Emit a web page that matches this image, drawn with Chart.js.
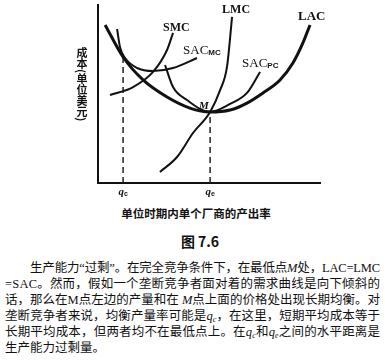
<!DOCTYPE html>
<html>
<head>
<meta charset="utf-8">
<script src="https://cdn.jsdelivr.net/npm/chart.js@4/dist/chart.umd.min.js"></script>
<style>
  html, body { margin: 0; padding: 0; background: #fff; }
  body { width: 385px; height: 364px; position: relative; overflow: hidden; color: #111; }
  #chart { position: absolute; left: 0; top: 0; }
  .ytitle { position: absolute; left: 75px; top: 47px; writing-mode: vertical-rl; font: bold 11px "Noto Sans CJK SC"; line-height: 14px; }
  .xtitle { position: absolute; left: 0; width: 392px; top: 205px; text-align: center; font: bold 11.5px "Noto Sans CJK SC"; }
  .fig { position: absolute; left: 0; width: 400px; top: 231px; text-align: center; font: bold 14px "Noto Sans CJK SC"; }
  .para { position: absolute; left: 5px; top: 260px; width: 375px; font-size: 12.5px; font-family: "Liberation Serif", "Noto Sans CJK SC", serif; line-height: 16.1px; }
  .para div { white-space: nowrap; }
  .q { font-style: italic; }
  sub { font-size: 8px; vertical-align: -2px; line-height: 0; }
</style>
</head>
<body>
<canvas id="chart" width="385" height="200"></canvas>
<div class="ytitle">成本(单位美元)</div>
<div class="xtitle">单位时期内单个厂商的产出率</div>
<div class="fig">图 7.6</div>
<div class="para">
  <div class="fit" style="padding-left:25px">生产能力“过剩”。在完全竞争条件下，在最低点<i>M</i>处，LAC=LMC</div>
  <div class="fit">=SAC。然而，假如一个垄断竞争者面对着的需求曲线是向下倾斜的</div>
  <div class="fit">话，那么在M点左边的产量和在 <i>M</i>点上面的价格处出现长期均衡。对</div>
  <div class="fit">垄断竞争者来说，均衡产量率可能是<span class="q">q<sub>c</sub></span>，在这里，短期平均成本等于</div>
  <div class="fit">长期平均成本，但两者均不在最低点上。在<span class="q">q<sub>c</sub></span>和<span class="q">q<sub>e</sub></span>之间的水平距离是</div>
  <div>生产能力过剩量。</div>
</div>
<script>
// curves, [quantity, cost] on a 0-100 scale
const lac = [[3.2, 88.8], [11.3, 70.8], [20.3, 57.9], [31.1, 48.3], [41.4, 42.1], [50.5, 39.9], [59.5, 41], [67.1, 44.9], [74.3, 50.6], [82, 57.9], [87.8, 67.4], [92.3, 78.7], [95.5, 88.8]];
const lmc = [[27.9, 6.2], [35.6, 14.6], [42.8, 28.1], [50.5, 39.9], [55, 52.2], [58.1, 65.2], [60.4, 93.3]];
const smc = [[5.4, 49.4], [15.8, 53.9], [24.8, 62.4], [31.1, 74.7], [33.8, 84.3]];
const sacMC = [[8.6, 86.5], [9.9, 76.4], [12.2, 70.2], [17.6, 64.6], [24.8, 62.9], [33.8, 64.6], [44.6, 70.2]];
const sacPC = [[30.2, 66.3], [33.8, 53.9], [40.1, 46.6], [50.5, 39.9], [59.5, 44.4], [67.1, 50.6], [73, 62.4]];

const qValues = [11.3, 50.5];
const qSubs = ["c", "e"];
const qCosts = [70.8, 39.9];

const toPts = arr => arr.map(p => ({ x: p[0], y: p[1] }));

const curveLabels = [
  { text: "SMC", x: 29.3, y: 85.4, font: "bold 12px 'Liberation Serif'" },
  { text: "SAC", sub: "MC", x: 38.3, y: 72.5, font: "13px 'Liberation Serif'" },
  { text: "LMC", x: 55.9, y: 95.5, font: "bold 12px 'Liberation Serif'" },
  { text: "LAC", x: 90.1, y: 91.6, font: "bold 13px 'Liberation Serif'" },
  { text: "SAC", sub: "PC", x: 64.9, y: 65.2, font: "13px 'Liberation Serif'" },
  { text: "M", x: 45.5, y: 41.6, font: "italic bold 11px 'Liberation Serif'" }
];

const labelPlugin = {
  id: "curveLabels",
  afterDatasetsDraw(chart) {
    const { ctx, scales: { x, y } } = chart;
    ctx.save();
    ctx.fillStyle = "#111";
    ctx.textBaseline = "alphabetic";
    curveLabels.forEach(l => {
      const px = x.getPixelForValue(l.x), py = y.getPixelForValue(l.y);
      ctx.font = l.font;
      ctx.textAlign = "left";
      ctx.fillText(l.text, px, py);
      if (l.sub) {
        const w = ctx.measureText(l.text).width;
        ctx.font = "bold 8px 'Liberation Sans'";
        ctx.fillText(l.sub, px + w, py + 1);
      }
    });
    qValues.forEach((v, i) => {
      const px = x.getPixelForValue(v), py = y.bottom + 12;
      ctx.font = "italic bold 11px 'Liberation Serif'";
      ctx.textAlign = "right";
      ctx.fillText("q", px + 1, py);
      ctx.font = "bold 7px 'Liberation Sans'";
      ctx.textAlign = "left";
      ctx.fillText(qSubs[i], px + 1, py + 1);
    });
    ctx.restore();
  }
};

const line = (data, width) => ({
  data: toPts(data), showLine: true, borderColor: "#111", borderWidth: width,
  pointRadius: 0, cubicInterpolationMode: "monotone", fill: false
});

const dashes = qValues.map((v, i) => ({
  data: [{ x: v, y: 0 }, { x: v, y: qCosts[i] }], showLine: true,
  borderColor: "#222", borderWidth: 1.5, borderDash: [6, 4], pointRadius: 0
}));

new Chart(document.getElementById("chart"), {
  type: "scatter",
  data: {
    datasets: [line(lac, 3), line(lmc, 2), line(smc, 2), line(sacMC, 2), line(sacPC, 2), ...dashes]
  },
  options: {
    responsive: false,
    devicePixelRatio: 1,
    animation: false,
    layout: { padding: { left: 98, right: 65, top: 5, bottom: 17 } },
    plugins: { legend: { display: false }, tooltip: { enabled: false } },
    scales: {
      x: { type: "linear", min: 0, max: 100, grid: { display: false, drawTicks: false }, ticks: { display: false }, border: { color: "#111", width: 2 } },
      y: { type: "linear", min: 0, max: 100, grid: { display: false, drawTicks: false }, ticks: { display: false }, border: { color: "#111", width: 2 } }
    }
  },
  plugins: [labelPlugin]
});

// stretch each full paragraph line to the 375px measure
document.querySelectorAll(".fit").forEach(el => {
  const range = document.createRange();
  range.selectNodeContents(el);
  const pad = parseFloat(el.style.paddingLeft || 0);
  const w = range.getBoundingClientRect().width;
  const n = el.textContent.length;
  el.style.letterSpacing = ((375 - pad - w) / (n - 1)) + "px";
});
</script>
</body>
</html>
